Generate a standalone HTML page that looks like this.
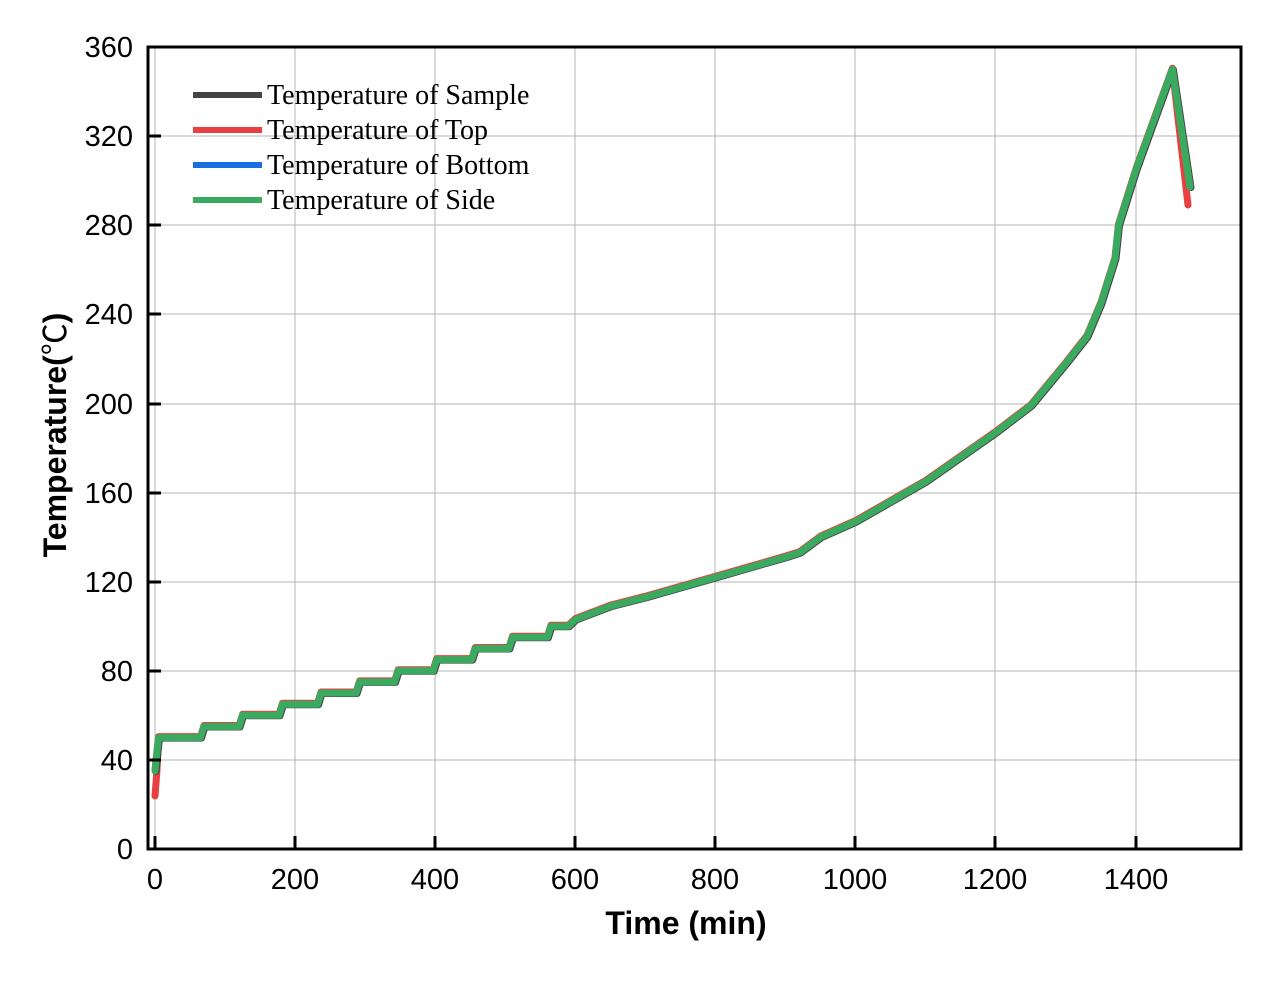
<!DOCTYPE html><html><head><style>body{margin:0;background:#fff}</style></head><body>
<svg width="1280" height="979" xmlns="http://www.w3.org/2000/svg" xmlns:xlink="http://www.w3.org/1999/xlink" font-family="Liberation Sans, sans-serif">
<defs>
<polyline id="c" fill="none" stroke-linejoin="round" stroke-linecap="round" stroke-width="7" points="155,771 158.5,737.6 200.5,737.6 204,726.5 239.1,726.5 242.6,715.3 279,715.3 282.5,704.2 317.6,704.2 321,693 356.1,693 359.6,681.9 394.6,681.9 398.1,670.8 433.2,670.8 436.7,659.6 471.7,659.6 475.2,648.5 508.9,648.5 512.4,637.3 547.4,637.3 550.9,626.2 568.4,626.2 575.4,619.5 610.5,606.1 645.5,597.2 715.6,577.2 785.6,557.1 799.6,552.7 820.7,537.1 855.7,521.5 925.8,481.4 995.8,432.4 1030.9,405.6 1065.9,363.3 1086.9,336.6 1101,303.1 1115,258.6 1118.5,225.2 1136,169.5 1172.4,69.2 1190,187"/>
</defs>
<g stroke="#b4b4b4" stroke-width="1">
<line x1="295" y1="47" x2="295" y2="849"/><line x1="435" y1="47" x2="435" y2="849"/><line x1="575" y1="47" x2="575" y2="849"/><line x1="715" y1="47" x2="715" y2="849"/><line x1="855" y1="47" x2="855" y2="849"/><line x1="995" y1="47" x2="995" y2="849"/><line x1="1136" y1="47" x2="1136" y2="849"/><line x1="155" y1="47" x2="155" y2="849"/>
<line x1="148" y1="760" x2="1241" y2="760"/><line x1="148" y1="671" x2="1241" y2="671"/><line x1="148" y1="582" x2="1241" y2="582"/><line x1="148" y1="493" x2="1241" y2="493"/><line x1="148" y1="404" x2="1241" y2="404"/><line x1="148" y1="314" x2="1241" y2="314"/><line x1="148" y1="225" x2="1241" y2="225"/><line x1="148" y1="136" x2="1241" y2="136"/>
</g>
<polyline fill="none" stroke="#e84040" stroke-width="7" stroke-linecap="round" stroke-linejoin="round" points="155,796 157,770 158.5,737.6 200.5,737.6"/>
<polyline fill="none" stroke="#e84040" stroke-width="7" stroke-linecap="round" points="1172.4,69.2 1188,205"/>
<use xlink:href="#c" stroke="#e84040" transform="translate(0,-1)"/>
<use xlink:href="#c" stroke="#444" transform="translate(1,0.5)"/>
<use xlink:href="#c" stroke="#3aaa60"/>
<rect x="148" y="47" width="1093" height="802" fill="none" stroke="#000" stroke-width="3"/>
<g stroke="#000" stroke-width="3">
<line x1="155" y1="849" x2="155" y2="836"/><line x1="295" y1="849" x2="295" y2="836"/><line x1="435" y1="849" x2="435" y2="836"/><line x1="575" y1="849" x2="575" y2="836"/><line x1="715" y1="849" x2="715" y2="836"/><line x1="855" y1="849" x2="855" y2="836"/><line x1="995" y1="849" x2="995" y2="836"/><line x1="1136" y1="849" x2="1136" y2="836"/>
<line x1="148" y1="760" x2="161" y2="760"/><line x1="148" y1="671" x2="161" y2="671"/><line x1="148" y1="582" x2="161" y2="582"/><line x1="148" y1="493" x2="161" y2="493"/><line x1="148" y1="404" x2="161" y2="404"/><line x1="148" y1="314" x2="161" y2="314"/><line x1="148" y1="225" x2="161" y2="225"/><line x1="148" y1="136" x2="161" y2="136"/>
</g>
<g font-size="29" text-anchor="end">
<text x="133" y="859">0</text><text x="133" y="770">40</text><text x="133" y="681">80</text><text x="133" y="592">120</text><text x="133" y="503">160</text><text x="133" y="414">200</text><text x="133" y="324">240</text><text x="133" y="235">280</text><text x="133" y="146">320</text><text x="133" y="57">360</text>
</g>
<g font-size="29" text-anchor="middle">
<text x="155" y="889">0</text><text x="295" y="889">200</text><text x="435" y="889">400</text><text x="575" y="889">600</text><text x="715" y="889">800</text><text x="855" y="889">1000</text><text x="995" y="889">1200</text><text x="1136" y="889">1400</text>
</g>
<text x="686" y="934" font-size="32" font-weight="bold" text-anchor="middle">Time (min)</text>
<text transform="translate(66,435) rotate(-90)" font-size="32" font-weight="bold" text-anchor="middle">Temperature(<tspan font-weight="normal" font-family="Noto Sans CJK SC, sans-serif">℃</tspan>)</text>
<g stroke-width="6">
<line x1="193" y1="95" x2="262" y2="95" stroke="#444"/><line x1="193" y1="130" x2="262" y2="130" stroke="#e84040"/><line x1="193" y1="165" x2="262" y2="165" stroke="#1a6fdf"/><line x1="193" y1="200" x2="262" y2="200" stroke="#3aaa60"/>
</g>
<g font-family="Liberation Serif, serif" font-size="28">
<text x="267" y="104">Temperature of Sample</text><text x="267" y="139">Temperature of Top</text><text x="267" y="174">Temperature of Bottom</text><text x="267" y="209">Temperature of Side</text>
</g>
</svg>
</body></html>
